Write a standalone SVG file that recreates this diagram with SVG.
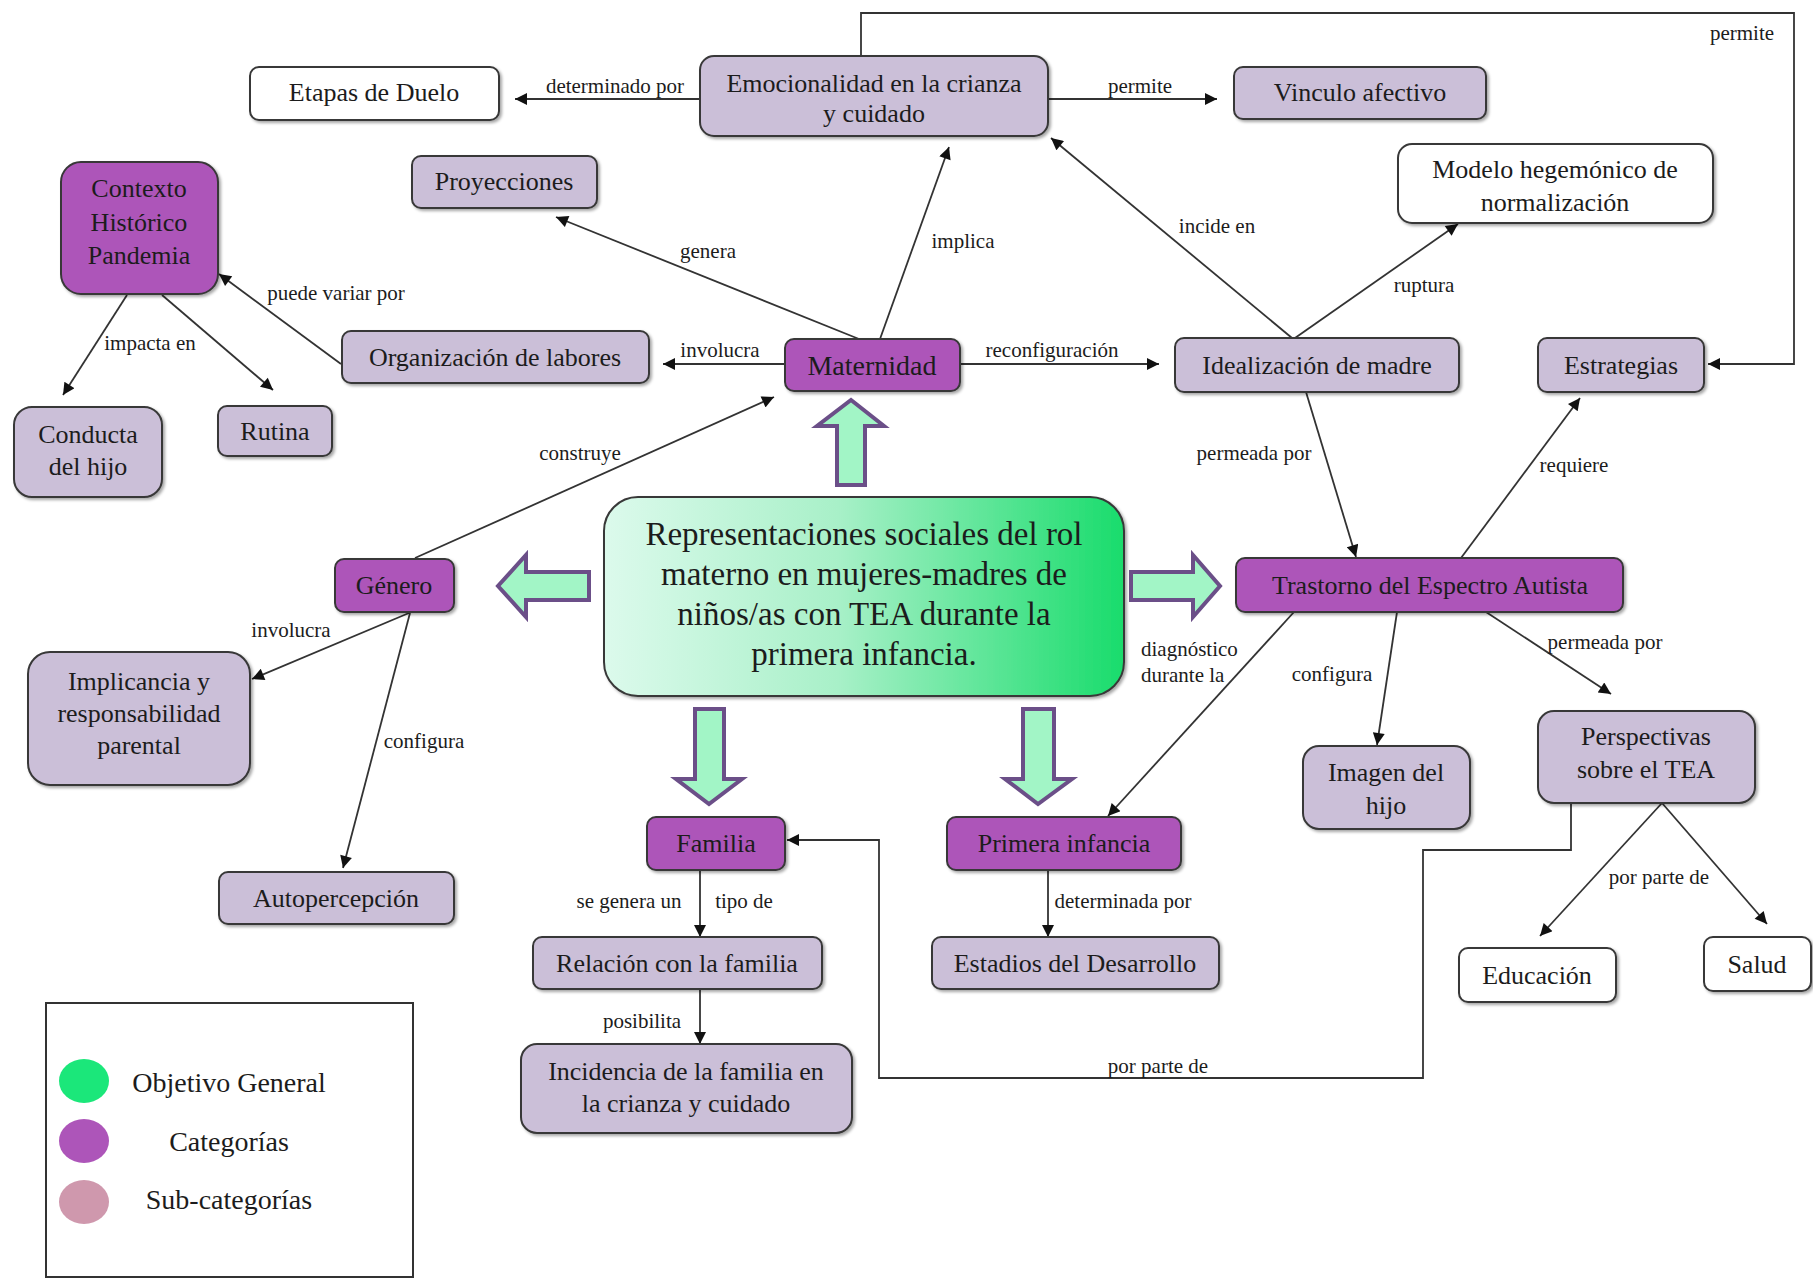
<svg xmlns="http://www.w3.org/2000/svg" width="1813" height="1278" viewBox="0 0 1813 1278">
<style>
.cat{fill:#ad55b9;stroke:#383838;stroke-width:2}
.sub{fill:#cbbfd8;stroke:#383838;stroke-width:2}
.wht{fill:#ffffff;stroke:#383838;stroke-width:2}
.shd{filter:url(#sh)}
text{font-family:"Liberation Serif","Times New Roman",serif;fill:#1c1c1c}
.n{font-size:26px;text-anchor:middle}
.l{font-size:21px;text-anchor:middle}
.c{stroke:#333;stroke-width:1.8;fill:none;marker-end:url(#ah)}
.cn{stroke:#333;stroke-width:1.8;fill:none}
.blk{fill:#a2f5c6;stroke:#6b4f88;stroke-width:4;stroke-linejoin:miter}
</style>
<defs>
<marker id="ah" viewBox="0 0 10 10" refX="10" refY="5" markerUnits="userSpaceOnUse" markerWidth="14" markerHeight="12" orient="auto">
<path d="M0,0 L10,5 L0,10 z" fill="#111"/>
</marker>
<linearGradient id="gg" x1="0" y1="0" x2="1" y2="0">
<stop offset="0" stop-color="#dcfaec"/>
<stop offset="0.45" stop-color="#a8f0c8"/>
<stop offset="1" stop-color="#19dc6c"/>
</linearGradient>
<filter id="sh" x="-10%" y="-10%" width="130%" height="140%">
<feDropShadow dx="2" dy="2" stdDeviation="1.5" flood-color="#000" flood-opacity="0.35"/>
</filter>
</defs>
<rect width="1813" height="1278" fill="#ffffff"/>

<g id="connectors">
<path class="c" d="M700,99 L515,99"/>
<path class="c" d="M1049,99 L1217,99"/>
<path class="c" d="M861,55 V13 H1794 V364 H1708"/>
<path class="c" d="M859,339 L556,217"/>
<path class="c" d="M880,339 L949,147"/>
<path class="c" d="M1292,338 L1051,138"/>
<path class="c" d="M1295,338 L1458,224"/>
<path class="c" d="M785,364 L663,364"/>
<path class="c" d="M960,364 L1159,364"/>
<path class="c" d="M341,364 L219,274"/>
<path class="c" d="M127,295 L63,395"/>
<path class="c" d="M162,295 L273,390"/>
<path class="c" d="M415,558 L774,397"/>
<path class="c" d="M1306,392 L1356,557"/>
<path class="c" d="M1461,558 L1580,398"/>
<path class="c" d="M1294,612 L1108,816"/>
<path class="c" d="M1397,612 L1377,745"/>
<path class="c" d="M1486,612 L1611,694"/>
<path class="c" d="M1662,803 L1540,936"/>
<path class="c" d="M1662,803 L1767,924"/>
<path class="c" d="M1571,803 V850 H1423 V1078 H879 V840 H787"/>
<path class="c" d="M700,870 V937"/>
<path class="c" d="M700,989 V1044"/>
<path class="c" d="M1048,870 V937"/>
<path class="c" d="M409,613 L252,679"/>
<path class="c" d="M410,613 L343,868"/>

<text class="l" x="615" y="93">determinado por</text>
<text class="l" x="1140" y="93">permite</text>
<text class="l" x="1742" y="40">permite</text>
<text class="l" x="708" y="258">genera</text>
<text class="l" x="963" y="248">implica</text>
<text class="l" x="1217" y="233">incide en</text>
<text class="l" x="1424" y="292">ruptura</text>
<text class="l" x="720" y="357">involucra</text>
<text class="l" x="1052" y="357">reconfiguración</text>
<text class="l" x="336" y="300">puede variar por</text>
<text class="l" x="150" y="350">impacta en</text>
<text class="l" x="580" y="460">construye</text>
<text class="l" x="1254" y="460">permeada por</text>
<text class="l" x="1574" y="472">requiere</text>
<text class="l" x="1141" y="656" text-anchor="start" style="text-anchor:start">diagnóstico</text>
<text class="l" x="1141" y="682" style="text-anchor:start">durante la</text>
<text class="l" x="1332" y="681">configura</text>
<text class="l" x="1605" y="649">permeada por</text>
<text class="l" x="1659" y="884">por parte de</text>
<text class="l" x="1158" y="1073">por parte de</text>
<text class="l" x="629" y="908">se genera un</text>
<text class="l" x="744" y="908">tipo de</text>
<text class="l" x="642" y="1028">posibilita</text>
<text class="l" x="1123" y="908">determinada por</text>
<text class="l" x="291" y="637">involucra</text>
<text class="l" x="424" y="748">configura</text>

<polygon class="blk" points="837,485 865,485 865,426 884,426 851,400 817,426 837,426"/>
<polygon class="blk" points="589,572 526,572 526,555 498,586 526,617 526,600 589,600"/>
<polygon class="blk" points="1131,572 1193,572 1193,555 1220,586 1193,617 1193,600 1131,600"/>
<polygon class="blk" points="695,709 724,709 724,779 742,779 709,804 676,779 695,779"/>
<polygon class="blk" points="1023,709 1054,709 1054,779 1072,779 1038,804 1005,779 1023,779"/>
</g>

<g id="n-central"><rect class="shd" x="604" y="497" width="520" height="199" rx="34" fill="url(#gg)" stroke="#383838" stroke-width="2"/>
<text style="font-size:33px;text-anchor:middle" x="864" y="545">Representaciones sociales del rol</text>
<text style="font-size:33px;text-anchor:middle" x="864" y="585">materno en mujeres-madres de</text>
<text style="font-size:33px;text-anchor:middle" x="864" y="625">niños/as con TEA durante la</text>
<text style="font-size:33px;text-anchor:middle" x="864" y="665">primera infancia.</text></g>

<g id="n-etapas"><rect class="wht shd" x="250" y="67" width="249" height="53" rx="9"/><text class="n" x="374" y="101">Etapas de Duelo</text></g>
<g id="n-emocionalidad"><rect class="sub shd" x="700" y="56" width="348" height="80" rx="14"/><text class="n" x="874" y="92">Emocionalidad en la crianza</text><text class="n" x="874" y="122">y cuidado</text></g>
<g id="n-vinculo"><rect class="sub shd" x="1234" y="67" width="252" height="52" rx="9"/><text class="n" x="1360" y="101">Vinculo afectivo</text></g>
<g id="n-proyecciones"><rect class="sub shd" x="412" y="156" width="185" height="52" rx="9"/><text class="n" x="504" y="190">Proyecciones</text></g>
<g id="n-modelo"><rect class="wht shd" x="1398" y="144" width="315" height="79" rx="14"/><text class="n" x="1555" y="178">Modelo hegemónico de</text><text class="n" x="1555" y="211">normalización</text></g>
<g id="n-contexto"><rect class="cat shd" x="61" y="162" width="157" height="132" rx="20"/><text class="n" x="139" y="197">Contexto</text><text class="n" x="139" y="231">Histórico</text><text class="n" x="139" y="264">Pandemia</text></g>
<g id="n-organizacion"><rect class="sub shd" x="342" y="331" width="307" height="52" rx="9"/><text class="n" x="495" y="366">Organización de labores</text></g>
<g id="n-maternidad"><rect class="cat shd" x="785" y="339" width="175" height="52" rx="9"/><text class="n" style="font-size:28px" x="872" y="375">Maternidad</text></g>
<g id="n-idealizacion"><rect class="sub shd" x="1175" y="338" width="284" height="54" rx="9"/><text class="n" x="1317" y="374">Idealización de madre</text></g>
<g id="n-estrategias"><rect class="sub shd" x="1538" y="338" width="166" height="54" rx="9"/><text class="n" x="1621" y="374">Estrategias</text></g>
<g id="n-conducta"><rect class="sub shd" x="14" y="407" width="148" height="90" rx="18"/><text class="n" x="88" y="443">Conducta</text><text class="n" x="88" y="475">del hijo</text></g>
<g id="n-rutina"><rect class="sub shd" x="218" y="406" width="114" height="50" rx="9"/><text class="n" x="275" y="440">Rutina</text></g>
<g id="n-genero"><rect class="cat shd" x="335" y="559" width="119" height="53" rx="9"/><text class="n" x="394" y="594">Género</text></g>
<g id="n-trastorno"><rect class="cat shd" x="1236" y="558" width="387" height="54" rx="9"/><text class="n" x="1430" y="594">Trastorno del Espectro Autista</text></g>
<g id="n-implicancia"><rect class="sub shd" x="28" y="652" width="222" height="133" rx="22"/><text class="n" x="139" y="690">Implicancia y</text><text class="n" x="139" y="722">responsabilidad</text><text class="n" x="139" y="754">parental</text></g>
<g id="n-autopercepcion"><rect class="sub shd" x="219" y="872" width="235" height="52" rx="9"/><text class="n" x="336" y="907">Autopercepción</text></g>
<g id="n-familia"><rect class="cat shd" x="647" y="817" width="138" height="53" rx="9"/><text class="n" x="716" y="852">Familia</text></g>
<g id="n-primera"><rect class="cat shd" x="947" y="817" width="234" height="53" rx="9"/><text class="n" x="1064" y="852">Primera infancia</text></g>
<g id="n-imagen"><rect class="sub shd" x="1303" y="746" width="167" height="83" rx="16"/><text class="n" x="1386" y="781">Imagen del</text><text class="n" x="1386" y="814">hijo</text></g>
<g id="n-perspectivas"><rect class="sub shd" x="1538" y="711" width="217" height="92" rx="16"/><text class="n" x="1646" y="745">Perspectivas</text><text class="n" x="1646" y="778">sobre el TEA</text></g>
<g id="n-relacion"><rect class="sub shd" x="533" y="937" width="289" height="52" rx="9"/><text class="n" x="677" y="972">Relación con la familia</text></g>
<g id="n-estadios"><rect class="sub shd" x="932" y="937" width="287" height="52" rx="9"/><text class="n" x="1075" y="972">Estadios del Desarrollo</text></g>
<g id="n-incidencia"><rect class="sub shd" x="521" y="1044" width="331" height="89" rx="16"/><text class="n" x="686" y="1080">Incidencia de la familia en</text><text class="n" x="686" y="1112">la crianza y cuidado</text></g>
<g id="n-educacion"><rect class="wht shd" x="1459" y="948" width="157" height="54" rx="9"/><text class="n" x="1537" y="984">Educación</text></g>
<g id="n-salud"><rect class="wht shd" x="1704" y="937" width="107" height="54" rx="9"/><text class="n" x="1757" y="973">Salud</text></g>

<g id="legend">
<rect x="46" y="1003" width="367" height="274" fill="#fff" stroke="#333" stroke-width="2"/>
<ellipse cx="84" cy="1081" rx="25" ry="22" fill="#1be77a"/>
<ellipse cx="84" cy="1141" rx="25" ry="22" fill="#ad55b9"/>
<ellipse cx="84" cy="1202" rx="25" ry="22" fill="#cf98ad"/>
<text style="font-size:28px;text-anchor:middle" x="229" y="1092">Objetivo General</text>
<text style="font-size:28px;text-anchor:middle" x="229" y="1151">Categorías</text>
<text style="font-size:28px;text-anchor:middle" x="229" y="1209">Sub-categorías</text>
</g>
</svg>
